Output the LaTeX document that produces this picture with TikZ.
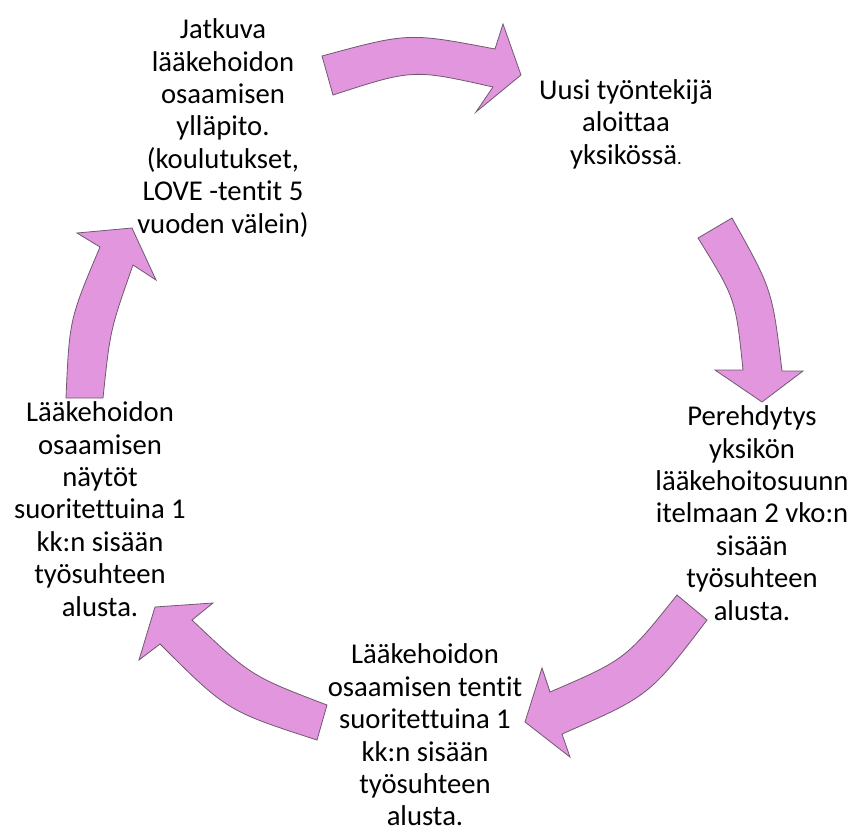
\documentclass[tikz,border=0pt]{standalone}
\usepackage{fontspec}
\setmainfont{Carlito}[Ligatures=NoCommon]
\definecolor{arrowfill}{RGB}{226,150,221}
\definecolor{arrowedge}{RGB}{112,88,112}
\begin{document}
\begin{tikzpicture}[x=0.75pt,y=-0.75pt,
  cyclearrow/.style={fill=arrowfill,draw=arrowedge,line width=0.6pt,line join=miter},
  steptext/.style={align=center,inner sep=0pt,font=\fontsize{21.5}{24.3}\selectfont}]
\useasboundingbox (0,0) rectangle (851,833);

% step labels around the cycle
\node[steptext] (maint) at (223,128) {Jatkuva\\lääkehoidon\\osaamisen\\ylläpito.\\(koulutukset,\\LOVE -tentit 5\\vuoden välein)};
\node[steptext] (start) at (626,124) {Uusi työntekijä\\aloittaa\\yksikössä{\fontsize{14}{14}\selectfont .}};
\node[steptext] (intro) at (752,513) {Perehdytys\\yksikön\\lääkehoitosuunn\\itelmaan 2 vko:n\\sisään\\työsuhteen\\alusta.};
\node[steptext] (exams) at (425,735) {Lääkehoidon\\osaamisen tentit\\suoritettuina 1\\kk:n sisään\\työsuhteen\\alusta.};
\node[steptext] (demos) at (100,509) {Lääkehoidon\\osaamisen\\näytöt\\suoritettuina 1\\kk:n sisään\\työsuhteen\\alusta.};

% curved block arrows between the steps
\draw[cyclearrow] (322,56) .. controls (408.5,32.5) .. (495,49) -- (503,24) -- (521,75)
  -- (476,112) -- (493,87) .. controls (413,69) .. (333,95) -- cycle;
\draw[cyclearrow] (732,218) .. controls (772.2,289.5) .. (782,371) -- (803,371) -- (762,402)
  -- (715,370) -- (743,370) .. controls (735.7,298.9) .. (698,238) -- cycle;
\draw[cyclearrow] (677,595) -- (707,620) .. controls (649.3,695.9) .. (562,734) -- (570,757)
  -- (525,722) -- (542,668) -- (550,692) .. controls (625.6,659.4) .. (677,595) -- cycle;
\draw[cyclearrow] (327,705) .. controls (251,676) .. (192,620) -- (213,603) -- (155,607)
  -- (139,660) -- (160,644) .. controls (227,710.8) .. (317,740) -- cycle;
\draw[cyclearrow] (66,398) .. controls (69.4,319.4) .. (100,247) -- (77,233) -- (132,228)
  -- (156,280) -- (133,265) .. controls (110.2,329.7) .. (103,398) -- cycle;
\end{tikzpicture}
\end{document}
